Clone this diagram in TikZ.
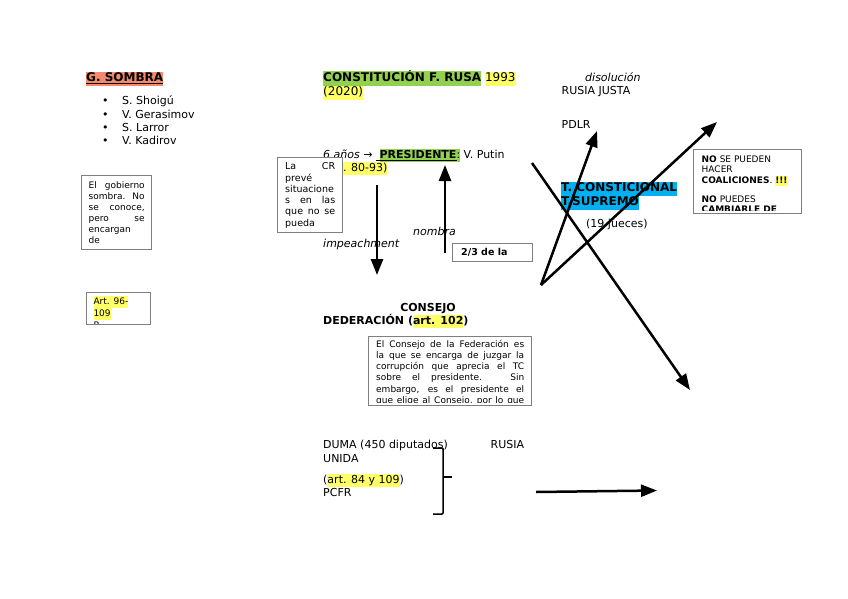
\documentclass[tikz,border=0pt]{standalone}
\usepackage{fontspec}
\setmainfont{DejaVu Sans}
\usetikzlibrary{arrows.meta}

\definecolor{salmon}{HTML}{F4896B}
\definecolor{verde}{HTML}{92D050}
\definecolor{amarillo}{HTML}{FFFF66}
\definecolor{celeste}{HTML}{00B0F0}
\definecolor{borde}{HTML}{7F7F7F}

\newcommand{\resalta}[2]{{\setlength{\fboxsep}{0pt}\colorbox{#1}{\strut#2}}}

\tikzset{
  txt/.style={inner sep=0pt, anchor=base west, font=\fontsize{11}{13}\selectfont},
  titulo/.style={txt, font=\fontsize{12}{14}\selectfont},
  nota/.style={inner sep=0pt, anchor=north west, align=justify,
    execute at begin node={\pretolerance=10000\tolerance=10000\hbadness=10000}},
  caja/.style={draw=borde, line width=0.9pt},
  flecha/.style={line width=2.5pt, -{Triangle[length=16pt,width=12pt]}},
  llave/.style={line width=1.5pt, rounded corners=1pt}
}

\begin{document}
\begin{tikzpicture}[x=1pt,y=-1pt]
  \useasboundingbox (0,0) rectangle (848,599);

  % gobierno en la sombra
  \node[titulo] (sombra) at (86,82) {\resalta{salmon}{\textbf{\underline{G. SOMBRA}}}};
  \foreach \nom [count=\i] in {S. Shoigú, V. Gerasimov, S. Larror, V. Kadirov} {
    \node[txt] (pt\i) at (102,{91.7+13.3*\i}) {•};
    \node[txt] (g\i) at (122,{91.7+13.3*\i}) {\nom};
  }

  \draw[caja] (81,175) rectangle (151,249);
  \begin{scope}
    \clip (82,176) rectangle (150,248);
    \node[nota, text width=56pt, font=\fontsize{9}{11}\selectfont] (gob) at (88.5,180.3)
      {\strut El gobierno\linebreak sombra. No\linebreak se conoce,\linebreak pero se\linebreak encargan\linebreak de};
  \end{scope}

  \draw[caja] (86,292) rectangle (150,324);
  \begin{scope}
    \clip (87,293) rectangle (149,323);
    \node[nota, align=left, font=\fontsize{9}{12}\selectfont] (art) at (93.3,295.6)
      {\resalta{amarillo}{Art. 96-}\\\resalta{amarillo}{109}\\P};
  \end{scope}

  % constitucion y presidente
  \node[titulo] (const) at (323,82) {\resalta{verde}{\textbf{CONSTITUCIÓN F. RUSA}} \resalta{amarillo}{1993}};
  \node[titulo] (anio) at (323,96) {\resalta{amarillo}{(2020)}};
  \node[txt] (pres) at (323,158.5) {\textit{6 años} → \underline{\ }\resalta{verde}{\underline{\textbf{PRESIDENTE}}:} V. Putin};
  \node[txt] (art80) at (323,171.5) {\resalta{amarillo}{(art. 80-93)}};

  \filldraw[caja, fill=white] (277,157) rectangle (342,232);
  \begin{scope}
    \clip (278,158) rectangle (341,231);
    \node[nota, text width=50pt, font=\fontsize{9.5}{11.3}\selectfont] (cr) at (285,161.6)
      {\strut La CR\linebreak prevé\linebreak situacione\linebreak s en las\linebreak que no se\linebreak pueda};
  \end{scope}

  \node[txt] (imp) at (323,247) {\textit{impeachment}};
  \node[txt] (nom) at (413,235) {\textit{nombra}};

  \draw[caja] (452,243) rectangle (532,261);
  \node[txt, font=\fontsize{9.5}{11}\selectfont\bfseries] (dos) at (461,255.5) {2/3 de la};

  % consejo de la federacion
  \node[txt, anchor=base, font=\fontsize{11}{13}\selectfont\bfseries] (cons) at (428,311) {CONSEJO};
  \node[txt, font=\fontsize{11}{13}\selectfont\bfseries] (fed) at (323,324) {DEDERACIÓN (\resalta{amarillo}{art. 102})};

  \draw[caja] (368,336) rectangle (531,405);
  \begin{scope}
    \clip (369,337) rectangle (530,402);
    \node[nota, text width=148pt, font=\fontsize{9}{11.2}\selectfont] (fedtxt) at (376,339.2)
      {\strut El Consejo de la Federación es\linebreak la que se encarga de juzgar la\linebreak corrupción que aprecia el TC\linebreak sobre el presidente. Sin\linebreak embargo, es el presidente el\linebreak que elige al Consejo, por lo que\linebreak};
  \end{scope}

  % duma
  \node[txt] (duma) at (323,448.5) {DUMA (450 diputados)};
  \node[txt] (rusia) at (490.5,448.5) {RUSIA};
  \node[txt] (unida) at (323,462) {UNIDA};
  \node[txt] (art84) at (323,483) {(\resalta{amarillo}{art. 84 y 109})};
  \node[txt] (pcfr) at (323,496) {PCFR};
  \draw[llave] (433,448) -- (443,448) -- (443,514) -- (433,514);
  \draw[line width=1.5pt] (443,477) -- (452,477);

  % partidos y tribunal
  \node[txt] (dis) at (585,81.5) {\textit{disolución}};
  \node[txt] (rj) at (561.5,95) {RUSIA JUSTA};
  \node[txt] (pdlr) at (561.5,128.3) {PDLR};
  \node[titulo] (tc) at (561,191.5) {\resalta{celeste}{\textbf{T. CONSTICIONAL}}};
  \node[titulo] (ts) at (561,205.5) {\resalta{celeste}{\textbf{T.SUPREMO}}};
  \node[txt] (jue) at (586,227) {(19 jueces)};

  \draw[caja] (693,149) rectangle (801,213);
  \begin{scope}
    \clip (694,150) rectangle (800,210);
    \node[nota, align=left, font=\fontsize{9}{10.5}\selectfont] (no) at (701.5,154.6)
      {\strut\textbf{NO} SE PUEDEN\\HACER\\\textbf{COALICIONES}. \resalta{amarillo}{\textbf{!!!}}\\[8.5pt]\textbf{NO} PUEDES\\\textbf{CAMBIARLE DE}};
  \end{scope}

  % flechas
  \coordinate (imp1) at (377,185);
  \coordinate (imp2) at (377,275);
  \coordinate (nom1) at (445,253);
  \coordinate (nom2) at (445,165);
  \coordinate (a1) at (532,163);
  \coordinate (a2) at (690,390);
  \coordinate (o) at (541,285);
  \coordinate (b2) at (597,131);
  \coordinate (c2) at (717,122);
  \coordinate (d1) at (536,492);
  \coordinate (d2) at (657,490.5);

  \draw[flecha] (imp1) -- (imp2);
  \draw[flecha] (nom1) -- (nom2);
  \draw[flecha] (a1) -- (a2);
  \draw[flecha] (o) -- (b2);
  \draw[flecha] (o) -- (c2);
  \draw[flecha] (d1) -- (d2);
\end{tikzpicture}
\end{document}
